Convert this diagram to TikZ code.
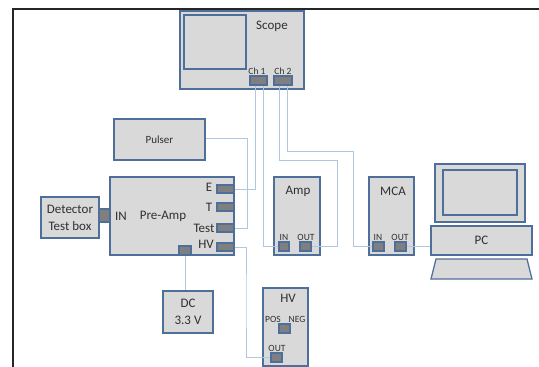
\documentclass[tikz,border=0pt]{standalone}
\usepackage{fontspec}
\setmainfont{Carlito}
\usepackage{xcolor}
\definecolor{edgeblue}{HTML}{4F6F9B}
\definecolor{wireblue}{HTML}{AFC7E1}
\definecolor{boxgray}{HTML}{D9D9D9}
\definecolor{portgray}{HTML}{7F7F7F}
\definecolor{inkgray}{HTML}{303030}

\begin{document}
\begin{tikzpicture}[
  x=1pt, y=-1pt,
  box/.style={draw=edgeblue, line width=1.3pt, fill=boxgray, inner sep=0pt,
              align=center, text=inkgray, font=\fontsize{13}{17}\selectfont},
  port/.style={draw=edgeblue, line width=1.3pt, fill=portgray, inner sep=0pt},
  lbl/.style={inner sep=0pt, text=inkgray, font=\fontsize{13}{15}\selectfont},
  tiny/.style={inner sep=0pt, text=inkgray, font=\fontsize{9.5}{11}\selectfont},
  wire/.style={draw=wireblue, line width=0.9pt},
]
\useasboundingbox (0,0) rectangle (539,367);
% Page frame, open on the right and at the bottom
\draw[line width=1.6pt, black!85] (13,367) -- (13,9) -- (539,9);

% --- Instruments ---
\node[box, minimum width=124, minimum height=78] (Scope) at (242,50) {};
\node[box, minimum width=62, minimum height=54] (Screen) at (215,42) {};
\node[box, minimum width=91, minimum height=41, font=\fontsize{11}{13}\selectfont] (Pulser) at (159.5,139.5) {Pulser};
\node[box, minimum width=124, minimum height=78] (PreAmp) at (172,216) {};
\node[box, minimum width=58, minimum height=41] (Detector) at (70,217.5) {Detector\\Test box};
\node[box, minimum width=46, minimum height=78] (Amp) at (297,216) {};
\node[box, minimum width=45, minimum height=78] (MCA) at (391.5,216) {};
\node[box, minimum width=50, minimum height=42] (DC) at (188,312) {DC\\3.3 V};
\node[box, minimum width=45, minimum height=78] (HV) at (285.5,327) {};

% --- PC ---
\node[box, minimum width=90, minimum height=58] (Monitor) at (480,193) {};
\node[box, minimum width=74, minimum height=45] (Display) at (480,192.5) {};
\node[box, minimum width=101, minimum height=29] (PC) at (481.5,240.5) {PC};
\draw[draw=edgeblue, line width=1.3pt, fill=boxgray] (436,259) -- (527,259) -- (532,279) -- (431,279) -- cycle;

% --- Ports ---
\node[port, minimum width=17, minimum height=9] (Ch1) at (258.5,80.5) {};
\node[port, minimum width=18, minimum height=9] (Ch2) at (283,80.5) {};
\node[port, minimum width=11, minimum height=13] (DetOut) at (104.5,215.5) {};
\node[port, minimum width=17, minimum height=8] (E) at (225.5,189) {};
\node[port, minimum width=17, minimum height=8] (T) at (225.5,207) {};
\node[port, minimum width=17, minimum height=8] (Test) at (225.5,228) {};
\node[port, minimum width=17, minimum height=8] (HVout) at (225.5,247) {};
\node[port, minimum width=12, minimum height=9] (DCin) at (185,250.5) {};
\node[port, minimum width=10, minimum height=9] (AmpIn) at (284,246.5) {};
\node[port, minimum width=11, minimum height=9] (AmpOut) at (305.5,246.5) {};
\node[port, minimum width=11, minimum height=9] (McaIn) at (378.5,246.5) {};
\node[port, minimum width=11, minimum height=9] (McaOut) at (400.5,246.5) {};
\node[port, minimum width=11, minimum height=9] (HvPol) at (284.5,328.5) {};
\node[port, minimum width=11, minimum height=9] (HvOut) at (276.5,357.5) {};

% --- Labels ---
\node[lbl] (tScope) at (272,26) {Scope};
\node[tiny] (tCh1) at (257,71) {Ch 1};
\node[tiny] (tCh2) at (283,71) {Ch 2};
\node[lbl] (tIn) at (121,216) {IN};
\node[lbl] (tPre) at (163,216) {Pre-Amp};
\node[lbl] (tE) at (209,187) {E};
\node[lbl] (tT) at (209,207) {T};
\node[lbl] (tTest) at (204,228) {Test};
\node[lbl] (tHv) at (206,244) {HV};
\node[lbl] (tAmp) at (298,191) {Amp};
\node[tiny] (tAmpIn) at (284,237) {IN};
\node[tiny] (tAmpOut) at (306,237) {OUT};
\node[lbl] (tMca) at (393,191) {MCA};
\node[tiny] (tMcaIn) at (378,237) {IN};
\node[tiny] (tMcaOut) at (400,237) {OUT};
\node[lbl] (tHvBox) at (288,298) {HV};
\node[tiny] (tPos) at (273,319) {POS};
\node[tiny] (tNeg) at (297,319) {NEG};
\node[tiny] (tOut) at (277,348) {OUT};

% --- Wiring ---
\coordinate (ampturn) at (337,160);
\coordinate (mcaturn) at (353,151);
\coordinate (pulseturn) at (247,138);
\coordinate (hvturn) at (246,300);
\draw[wire] (E.east) -| ([xshift=-3.5pt]Ch1.south);
\draw[wire] ([xshift=4.5pt]Ch1.south) |- (AmpIn.west);
\draw[wire] (AmpOut.east) -| (ampturn) -| ([xshift=-4pt]Ch2.south);
\draw[wire] (McaIn.west) -| (mcaturn) -| ([xshift=4pt]Ch2.south);
\draw[wire] (McaOut.east) -- (PC.west |- McaOut.east);
\draw[wire] (Pulser.east |- pulseturn) -| (Test.east -| pulseturn) -- (Test.east);
\draw[wire] (HVout.east) -| (hvturn) |- (HvOut.west);
\draw[wire] (DCin.south) -- ([xshift=-3pt]DC.north);
\end{tikzpicture}
\end{document}
